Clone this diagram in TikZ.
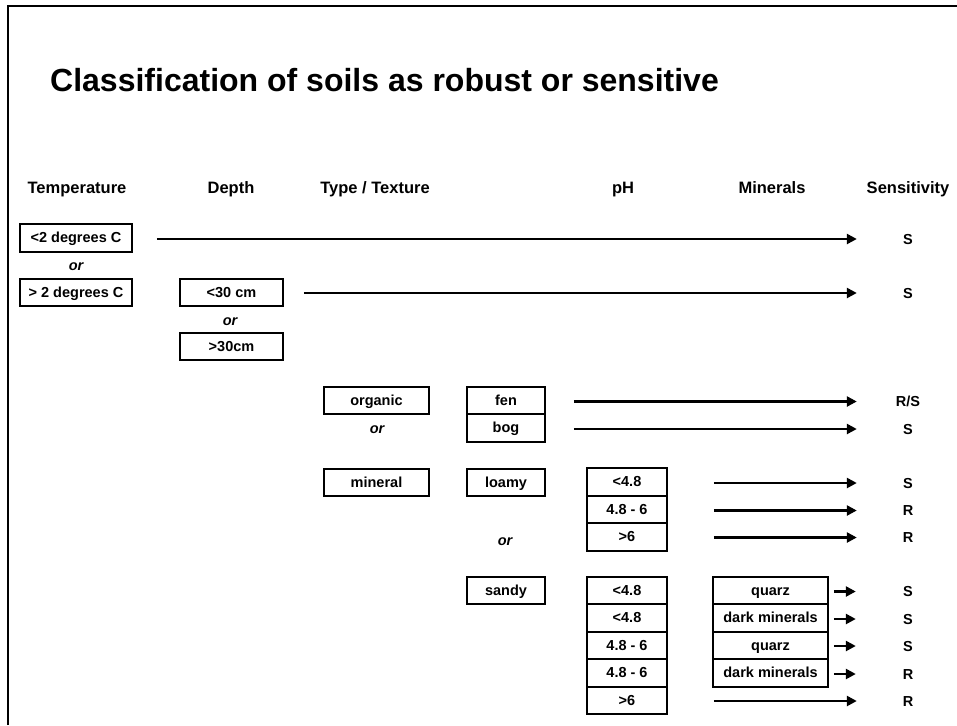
\documentclass[tikz,border=0pt]{standalone}
\usepackage{fontspec}
\setmainfont{Liberation Sans}
\usetikzlibrary{arrows.meta}
\begin{document}
\begin{tikzpicture}[x=1pt,y=-1pt,
  box/.style={draw, line width=1.6pt, inner sep=0pt, minimum height=27.5pt, text height=10.5pt, text depth=1pt, font=\fontsize{14.5}{16}\bfseries\selectfont},
  hdr/.style={font=\fontsize{16.5}{18}\bfseries\selectfont, inner sep=0pt, text height=12pt, text depth=1.5pt},
  orlab/.style={font=\fontsize{14.5}{16}\bfseries\itshape\selectfont, inner sep=0pt, text height=10.5pt, text depth=1pt},
  sens/.style={font=\fontsize{14.5}{16}\bfseries\selectfont, inner sep=0pt, minimum width=40pt, text height=10.5pt, text depth=0pt},
  arr/.style={line width=2.4pt, -{Triangle[length=10pt,width=10pt]}, shorten >=31pt},
  tw/.style={minimum width=112pt},
  dw/.style={minimum width=103pt},
  ttw/.style={minimum width=105pt},
  sw/.style={minimum width=78pt},
  pw/.style={minimum width=80pt},
  mw/.style={minimum width=115pt}
]
\useasboundingbox (0,0) rectangle (957,725);
% frame
\draw[line width=2pt] (8,725) -- (8,6) -- (957,6);
% title
\node[anchor=base west, inner sep=0pt, font=\fontsize{32}{36}\bfseries\selectfont] (title) at (50,91) {Classification of soils as robust or sensitive};
% headers
\node[hdr] (hT) at (77,188) {Temperature};
\node[hdr] (hD) at (231,188) {Depth};
\node[hdr] (hTT) at (375,188) {Type / Texture};
\node[hdr] (hpH) at (623,188) {pH};
\node[hdr] (hM) at (772,188) {Minerals};
\node[hdr] (hS) at (908,188) {Sensitivity};
% temperature
\node[box,tw] (t1) at (76,238) {<2 degrees C};
\node[orlab] (or1) at (76,266) {or};
\node[box,tw] (t2) at (76,292.5) {> 2 degrees C};
% depth
\node[box,dw] (d1) at (231.5,292.5) {<30 cm};
\node[orlab] (or2) at (230,321) {or};
\node[box,dw] (d2) at (231.5,346.5) {>30cm};
% type
\node[box,ttw] (org) at (376.5,400.5) {organic};
\node[orlab] (or3) at (377,429) {or};
\node[box,ttw] (min) at (376.5,482.5) {mineral};
% texture
\node[box,sw] (fen) at (506,400.5) {fen};
\node[box,sw] (bog) at (506,428) {bog};
\node[box,sw] (loamy) at (506,482.5) {loamy};
\node[orlab] (or4) at (505,541) {or};
\node[box,sw] (sandy) at (506,590.5) {sandy};
% pH loamy
\node[box,pw] (p1) at (627,482) {<4.8};
\node[box,pw] (p2) at (627,509.5) {4.8 - 6};
\node[box,pw] (p3) at (627,537) {>6};
% pH sandy
\node[box,pw] (q1) at (627,590.5) {<4.8};
\node[box,pw] (q2) at (627,618) {<4.8};
\node[box,pw] (q3) at (627,645.5) {4.8 - 6};
\node[box,pw] (q4) at (627,673) {4.8 - 6};
\node[box,pw] (q5) at (627,700.5) {>6};
% minerals
\node[box,mw] (m1) at (770.5,590.5) {quarz};
\node[box,mw] (m2) at (770.5,618) {dark minerals};
\node[box,mw] (m3) at (770.5,645.5) {quarz};
\node[box,mw] (m4) at (770.5,673) {dark minerals};
% sensitivity
\node[sens] (s1) at (908,239) {S};
\node[sens] (s2) at (908,293) {S};
\node[sens] (s3) at (908,401.5) {R/S};
\node[sens] (s4) at (908,429) {S};
\node[sens] (s5) at (908,483) {S};
\node[sens] (s6) at (908,510.5) {R};
\node[sens] (s7) at (908,537.5) {R};
\node[sens] (s8) at (908,591.5) {S};
\node[sens] (s9) at (908,619) {S};
\node[sens] (s10) at (908,646) {S};
\node[sens] (s11) at (908,674) {R};
\node[sens] (s12) at (908,701) {R};
% arrows
\draw[arr, shorten <=24pt] (t1.east |- s1.west) -- (s1.west);
\draw[arr, shorten <=20pt] (d1.east |- s2.west) -- (s2.west);
\draw[arr, shorten <=28pt] (fen.east |- s3.west) -- (s3.west);
\draw[arr, shorten <=28pt] (bog.east |- s4.west) -- (s4.west);
\draw[arr, shorten <=46pt] (p1.east |- s5.west) -- (s5.west);
\draw[arr, shorten <=46pt] (p2.east |- s6.west) -- (s6.west);
\draw[arr, shorten <=46pt] (p3.east |- s7.west) -- (s7.west);
\draw[arr, shorten <=5pt, shorten >=32pt] (m1.east |- s8.west) -- (s8.west);
\draw[arr, shorten <=5pt, shorten >=32pt] (m2.east |- s9.west) -- (s9.west);
\draw[arr, shorten <=5pt, shorten >=32pt] (m3.east |- s10.west) -- (s10.west);
\draw[arr, shorten <=5pt, shorten >=32pt] (m4.east |- s11.west) -- (s11.west);
\draw[arr, shorten <=46pt] (q5.east |- s12.west) -- (s12.west);
\end{tikzpicture}
\end{document}
